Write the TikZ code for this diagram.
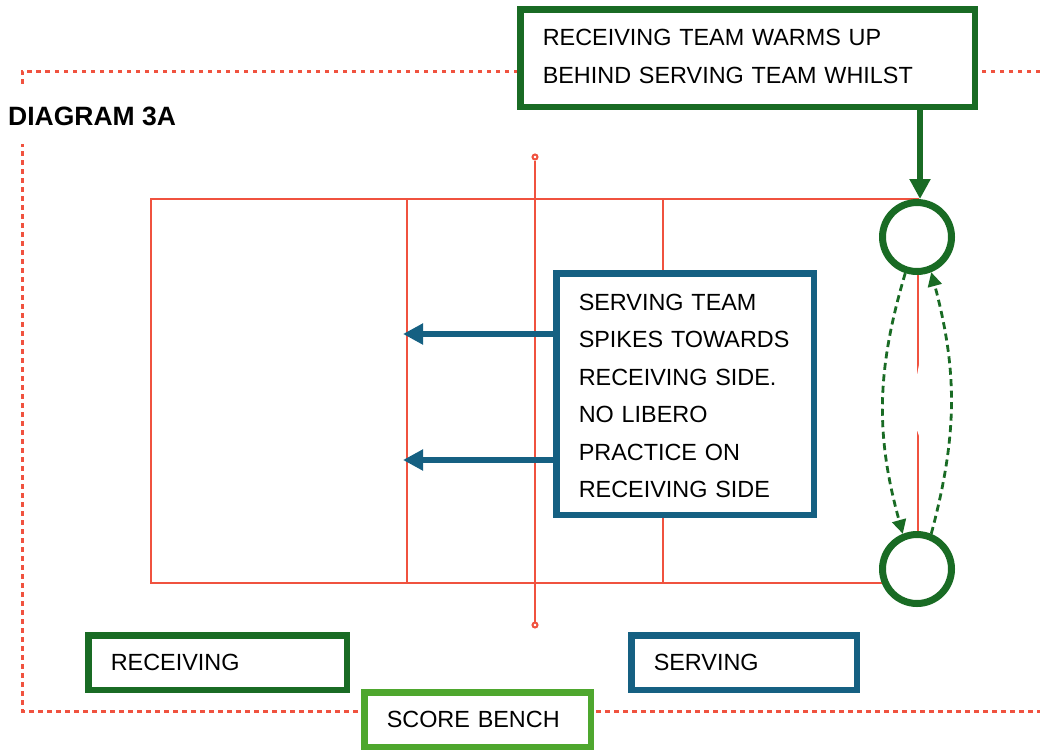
\documentclass[tikz,border=0pt]{standalone}
\usepackage{fontspec}
\setmainfont{Liberation Sans}
\usetikzlibrary{arrows.meta}
\definecolor{courtred}{HTML}{F0523F}
\definecolor{darkgreen}{HTML}{196B24}
\definecolor{teamblue}{HTML}{156082}
\definecolor{benchgreen}{HTML}{4EA72E}
\tikzset{
    labelbox/.style={draw, fill=white, line width=6.5pt, anchor=north west, align=left, inner xsep=22.5pt, inner ysep=0pt, font=\fontsize{23.4}{37.5}\selectfont},
    textdrop/.style={execute at end node={\par\vspace{#1}}},
    spot/.style={circle, draw=darkgreen, fill=white, line width=7pt, minimum size=69pt, inner sep=0pt},
    netend/.style={circle, draw=courtred, fill=white, line width=2pt, minimum size=5pt, inner sep=0pt},
    courtline/.style={draw=courtred, line width=2.8pt},
    bigarrow/.style={line width=6.5pt, -{Triangle[length=20pt, width=20pt]}},
    rotation/.style={darkgreen, line width=2.8pt, dash pattern=on 7pt off 4.5pt, -{Triangle[length=14pt, width=14pt]}}
}
\begin{document}
\begin{tikzpicture}[x=1pt, y=-1pt]
        \useasboundingbox (0,0) rectangle (1040,750);
        \draw[courtred, line width=3pt, dash pattern=on 4.5pt off 4.5pt] (1040,71) -- (22,71) -- (22,711) -- (1040,711);
        \node[fill=white, anchor=west, minimum height=56pt, inner xsep=0pt, font=\fontsize{26.5}{28}\selectfont\bfseries] (title) at (8,116) {DIAGRAM 3A};

        \draw[courtline] (151,199) rectangle (918,583);
        \draw[courtline] (407,199) -- (407,583);
        \draw[courtline] (663,199) -- (663,583);
        \fill[white] (921,352) .. controls (919,365) .. (916,380) -- (916,428) .. controls (919,435) .. (921,445) -- cycle;
        \node[netend] (nettop) at (535,157) {};
        \node[netend] (netbottom) at (535,625) {};
        \draw[courtline] (nettop) -- (netbottom);

        \node[spot] (topspot) at (917,237) {};
        \node[spot] (bottomspot) at (917,569) {};

        \node[labelbox, textdrop=-4pt, draw=teamblue, text width=212.5pt, minimum height=241.5pt] (servebox) at (553,270) {SERVING TEAM\\SPIKES TOWARDS\\RECEIVING SIDE.\\NO LIBERO\\PRACTICE ON\\RECEIVING SIDE};
        \node[labelbox, textdrop=3pt, draw=darkgreen, text width=409.5pt, minimum height=97.5pt] (warmbox) at (517,6) {RECEIVING TEAM WARMS UP\\BEHIND SERVING TEAM WHILST};
        \node[labelbox, textdrop=-8pt, draw=darkgreen, text width=213.5pt, minimum height=54.5pt] (receivebox) at (85,632) {RECEIVING};
        \node[labelbox, textdrop=-8pt, draw=teamblue, text width=180.5pt, minimum height=54.5pt] (servingbox) at (628,632) {SERVING};
        \node[labelbox, textdrop=-8pt, draw=benchgreen, text width=181.5pt, minimum height=54.5pt] (benchbox) at (361,689) {SCORE BENCH};

        \coordinate (upperhit) at (403,334);
        \coordinate (lowerhit) at (403,460);
        \draw[bigarrow, teamblue] (servebox.west |- upperhit) -- (upperhit);
        \draw[bigarrow, teamblue] (servebox.west |- lowerhit) -- (lowerhit);
        \draw[bigarrow, darkgreen] ([xshift=3pt]warmbox.south -| topspot.north) -- ([xshift=3pt]topspot.north);
        \draw[rotation] (topspot.252) to[bend right=16] (bottomspot.112);
        \draw[rotation] (bottomspot.68) to[bend right=15] (topspot.292);
\end{tikzpicture}
\end{document}
